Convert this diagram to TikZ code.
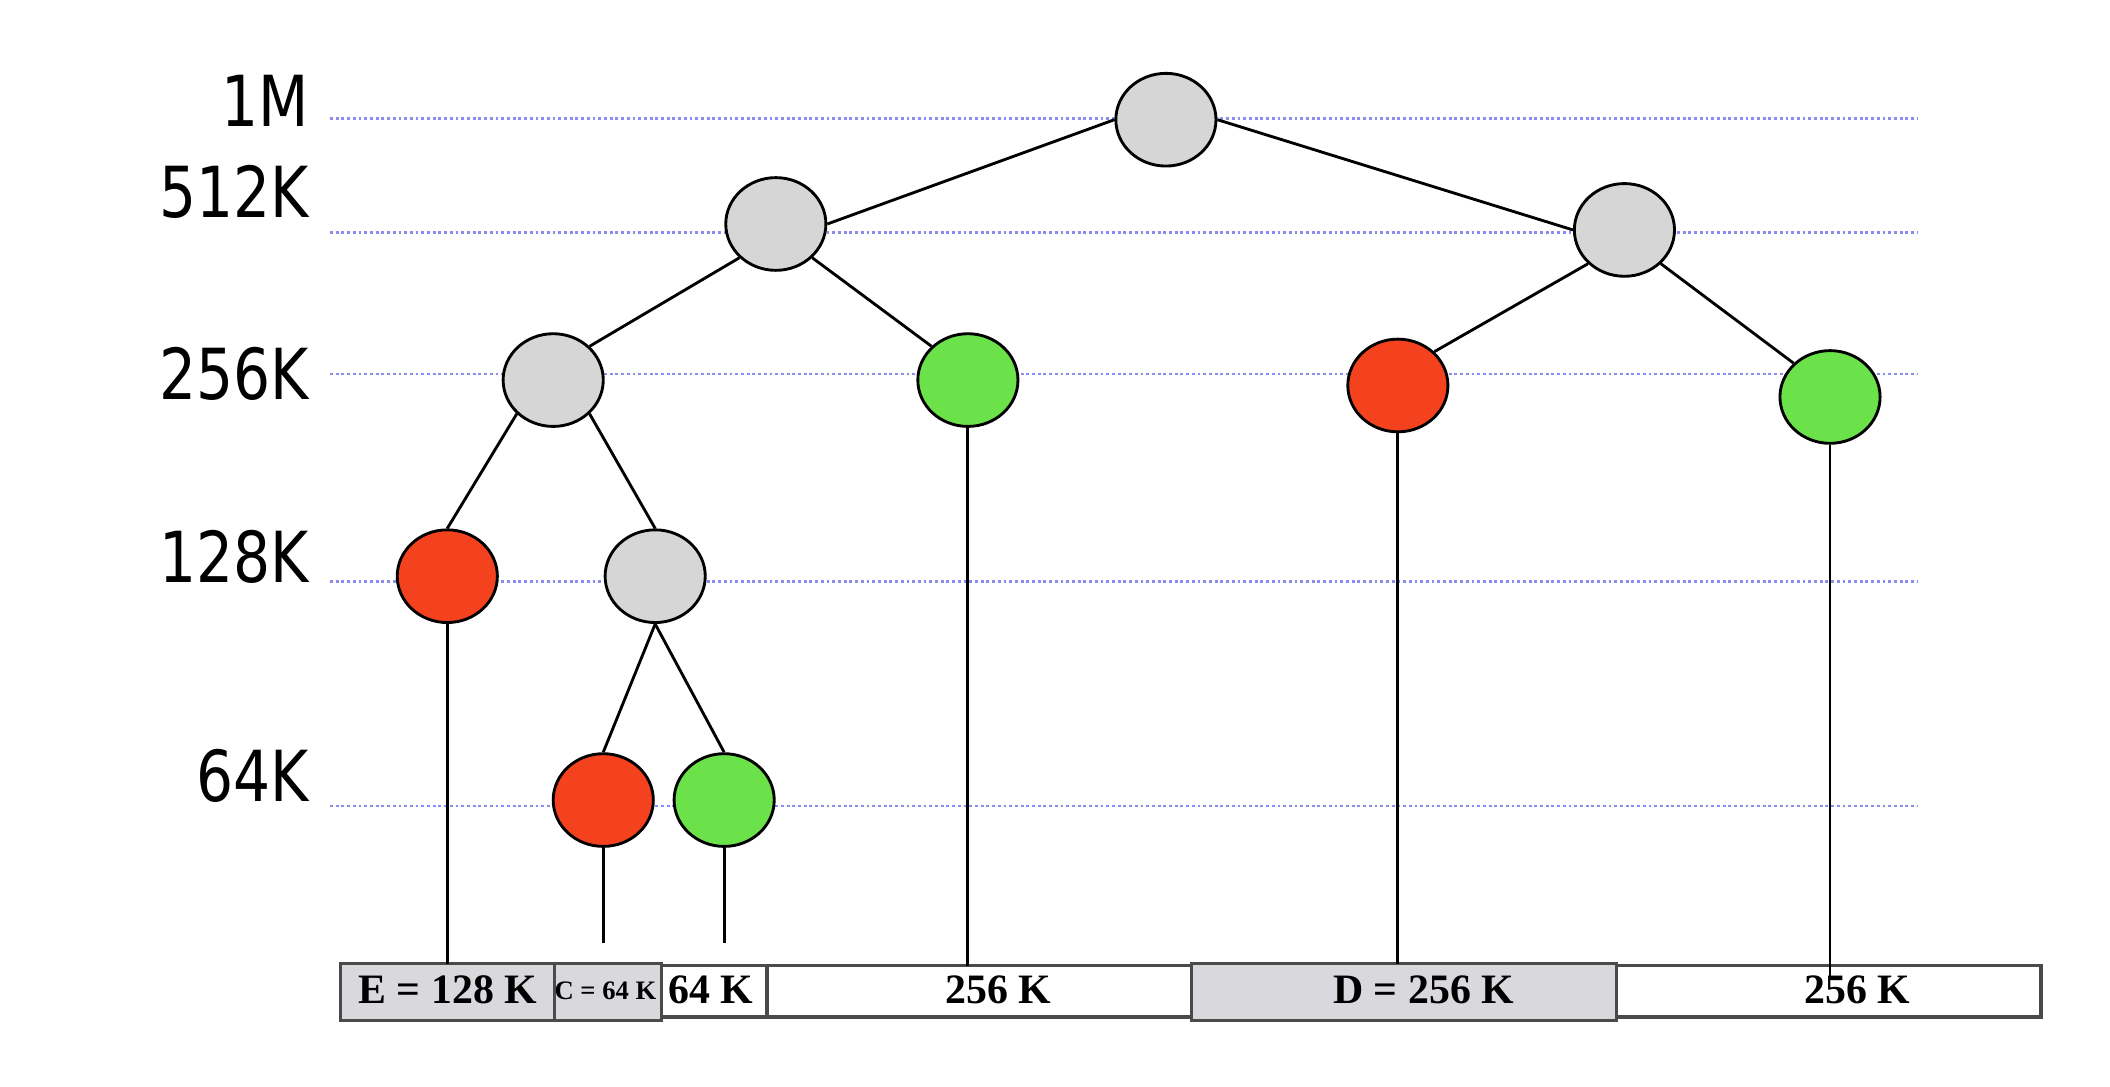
\documentclass[tikz,border=0pt]{standalone}
\usepackage{fontspec}
\setmainfont{Liberation Serif}
\newfontfamily\levelfont[FakeStretch=0.92]{DejaVu Sans Condensed}
\usetikzlibrary{shapes.geometric}
\definecolor{splitgray}{HTML}{D6D6D6}
\definecolor{usedred}{HTML}{F5421E}
\definecolor{freegreen}{HTML}{6BE24A}
\definecolor{guideblue}{HTML}{8C8CF0}
\definecolor{cellgray}{HTML}{D9D8DC}
\definecolor{cellline}{HTML}{4A4A4A}

\begin{document}
\begin{tikzpicture}[x=0.01cm, y=-0.01cm,
    blk/.style={ellipse, draw, line width=0.6pt, minimum width=0.74cm, minimum height=0.685cm, inner sep=0pt},
    splitblk/.style={blk, fill=splitgray},
    usedblk/.style={blk, fill=usedred},
    freeblk/.style={blk, fill=freegreen},
    link/.style={line width=0.6pt},
    memcell/.style={draw=cellline, line width=0.7pt, inner sep=0pt, outer sep=0pt, minimum height=0.38cm},
    usedcell/.style={memcell, fill=cellgray, minimum height=0.42cm},
    celltext/.style={font=\bfseries\fontsize{8.8}{10}\selectfont, anchor=base, inner sep=0pt},
    sizelabel/.style={font=\levelfont\fontsize{14.8}{16}\selectfont, anchor=base east, inner sep=0pt},
    guide/.style={draw=guideblue, line width=0.55pt, dash pattern=on 0.6pt off 0.6pt}]
  \useasboundingbox (0,0) rectangle (1560,803);

  % size levels
  \foreach \gy/\by/\lab [count=\i] in {87.5/93.7/1M, 172/160.7/512K, 276.5/295/256K, 430/430.8/128K, 596/592.7/64K} {
    \draw[guide] (244,\gy) -- (1418,\gy);
    \node[sizelabel] (size\i) at (229,\by) {\lab};
  }

  % buddy tree
  \node[splitblk] (root) at (862,88.5) {};
  \node[splitblk] (l) at (573.6,165.6) {};
  \node[splitblk] (r) at (1201,170) {};
  \node[splitblk] (ll) at (409,281) {};
  \node[freeblk] (lr) at (715.6,281) {};
  \node[usedblk] (rl) at (1033.5,285) {};
  \node[freeblk] (rr) at (1353,293.5) {};
  \node[usedblk] (lll) at (330.7,426) {};
  \node[splitblk] (llr) at (484.4,426) {};
  \node[usedblk] (llrl) at (446,591.5) {};
  \node[freeblk] (llrr) at (535.4,591.5) {};
  \draw[link] (root.west) -- (l.east);
  \draw[link] (root.east) -- (r.west);
  \draw[link] (l.south west) -- (ll.north east);
  \draw[link] (l.south east) -- (lr.north west);
  \draw[link] (r.south west) -- (rl.north east);
  \draw[link] (r.south east) -- (rr.north west);
  \draw[link] (ll.south west) -- (lll.north);
  \draw[link] (ll.south east) -- (llr.north);
  \draw[link] (llr.south) -- (llrl.north);
  \draw[link] (llr.south) -- (llrr.north);

  % memory
  \node[memcell, minimum width=0.78cm] (c64) at (528,733) {};
  \node[memcell, minimum width=3.14cm] (c256a) at (724,733) {};
  \node[memcell, minimum width=3.14cm] (c256b) at (1352,733) {};
  \node[usedcell, minimum width=1.58cm] (cE) at (331,733.5) {};
  \node[usedcell, minimum width=0.79cm] (cC) at (449.5,733.5) {};
  \node[usedcell, minimum width=3.14cm] (cD) at (1038,733.5) {};
  \node[celltext] (tE) at (331,741.6) {E = 128 K};
  \node[celltext, font=\bfseries\fontsize{5.6}{6}\selectfont] (tC) at (447.6,739.3) {C = 64 K};
  \node[celltext] (t64) at (525.5,741.6) {64 K};
  \node[celltext] (t256a) at (738,741.6) {256 K};
  \node[celltext] (tD) at (1052.6,741.6) {D = 256 K};
  \node[celltext] (t256b) at (1373,741.6) {256 K};

  \coordinate (stub) at (0,697);
  \coordinate (rrend) at (0,723);
  \draw[link] (lll.south) -- (lll |- cE.north);
  \draw[link] (llrl.south) -- (llrl |- stub);
  \draw[link] (llrr.south) -- (llrr |- stub);
  \draw[link] (lr.south) -- (lr |- c256a.north);
  \draw[link] (rl.south) -- (rl |- cD.north);
  \draw[link] (rr.south) -- (rr |- rrend);
\end{tikzpicture}
\end{document}
